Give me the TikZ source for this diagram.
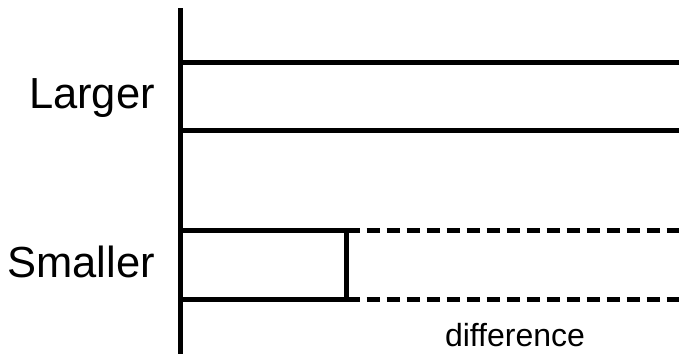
\documentclass[tikz,border=0pt]{standalone}
\usepackage{fontspec}
\setmainfont{Liberation Sans}
\begin{document}
\begin{tikzpicture}[x=1pt,y=-1pt,
  bar/.style={line width=4.8pt},
  dashbar/.style={line width=4.8pt, dash pattern=on 13pt off 7pt},
  biglabel/.style={anchor=base east, inner sep=0pt, font=\fontsize{43.5}{50}\selectfont},
  smalllabel/.style={anchor=base, inner sep=0pt, font=\fontsize{32}{38}\selectfont}]
\useasboundingbox (0,0) rectangle (679,354);
% axis
\coordinate (axtop) at (180.5,8);
\coordinate (axbot) at (180.5,354);
\draw[bar] (axtop) -- (axbot);
% larger bar
\coordinate (L1a) at (180.5,62.5);
\coordinate (L1b) at (679,62.5);
\coordinate (L2a) at (180.5,130.5);
\coordinate (L2b) at (679,130.5);
\draw[bar] (L1a) -- (L1b);
\draw[bar] (L2a) -- (L2b);
% smaller bar
\coordinate (S1a) at (180.5,230.5);
\coordinate (S1m) at (346.5,230.5);
\coordinate (S1b) at (679,230.5);
\coordinate (S2a) at (180.5,299.5);
\coordinate (S2m) at (346.5,299.5);
\coordinate (S2b) at (679,299.5);
\draw[bar] (S1a) -- (S1m) -- (S2m) -- (S2a);
\draw[dashbar] (S1m) -- (S1b);
\draw[dashbar] (S2m) -- (S2b);
% labels
\node[biglabel] (larger) at (155,108) {Larger};
\node[biglabel] (smaller) at (155,277.5) {Smaller};
\node[smalllabel] (diff) at (515,346) {difference};
\end{tikzpicture}
\end{document}
